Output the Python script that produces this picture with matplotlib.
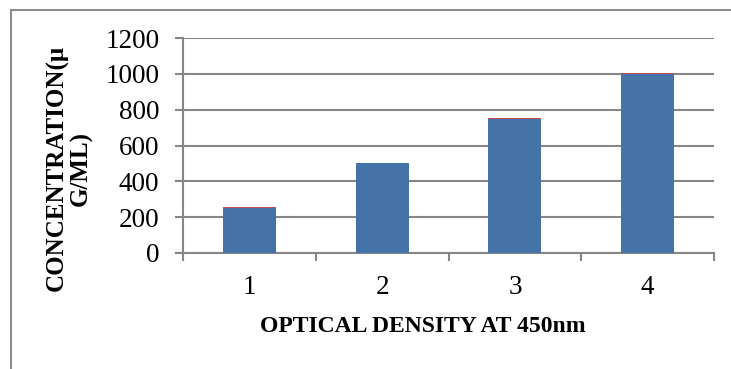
import numpy as np
import matplotlib
matplotlib.use("Agg")
import matplotlib.pyplot as plt
from matplotlib.patches import Rectangle

plt.rcParams['font.family'] = ['Liberation Serif', 'DejaVu Serif']

# datos del grafico
categorias = ["1", "2", "3", "4"]
concentracion = [250, 500, 750, 1000]
serie2 = [5, 5, 5, 5]
yticks = [0, 200, 400, 600, 800, 1000, 1200]

azul = "#4572A7"
rojo = "#C0504D"
gris = "#868686"

W, H = 731, 369
fig = plt.figure(figsize=(W/100, H/100), dpi=100)
ax = fig.add_axes([183/W, 1-253/H, (714-183)/W, (253-38)/H])

x = np.arange(len(categorias))
ax.bar(x, concentracion, width=0.4, color=azul, zorder=3)
ax.bar(x, serie2, width=0.4, bottom=concentracion, color=rojo, zorder=3)

ax.set_xlim(-0.5, len(categorias) - 0.5)
ax.set_ylim(0, 1200)
ax.set_yticks(yticks)
ax.set_yticklabels([str(v) for v in yticks], fontsize=19.5)
ax.yaxis.grid(True, color=gris, linewidth=1.5, zorder=0)

# ticks del eje x entre categorias, etiquetas centradas
ax.set_xticks(np.arange(-0.5, len(categorias), 1.0))
ax.set_xticklabels([])
ax.set_xticks(x, minor=True)
ax.set_xticklabels(categorias, minor=True, fontsize=19.5)
ax.tick_params(axis='x', which='minor', length=0, pad=16)
ax.tick_params(axis='x', which='major', length=6, width=1.5, color=gris)
ax.tick_params(axis='y', length=6, width=1.5, color=gris, pad=11)

for s in ['top', 'right']:
    ax.spines[s].set_visible(False)
for s in ['left', 'bottom']:
    ax.spines[s].set_color(gris)
    ax.spines[s].set_linewidth(1.5)

# titulos de ejes
fig.text(423/W, 1-326/H, "OPTICAL DENSITY AT 450nm", fontsize=17,
         fontweight='bold', ha='center', va='center')
fig.text(69/W, 1-168/H, "CONCENTRATION(\u03bc\nG/ML)", fontsize=18,
         fontweight='bold', rotation=90, ha='center', va='center',
         multialignment='center', linespacing=1.05)

# marco exterior
fig.patches.append(Rectangle((11/W, -0.2), 1.2, 1 - 10/H + 0.2,
                             transform=fig.transFigure, fill=False,
                             edgecolor="#8C8C8C", linewidth=1.5))

plt.savefig("out.png", dpi=100)
